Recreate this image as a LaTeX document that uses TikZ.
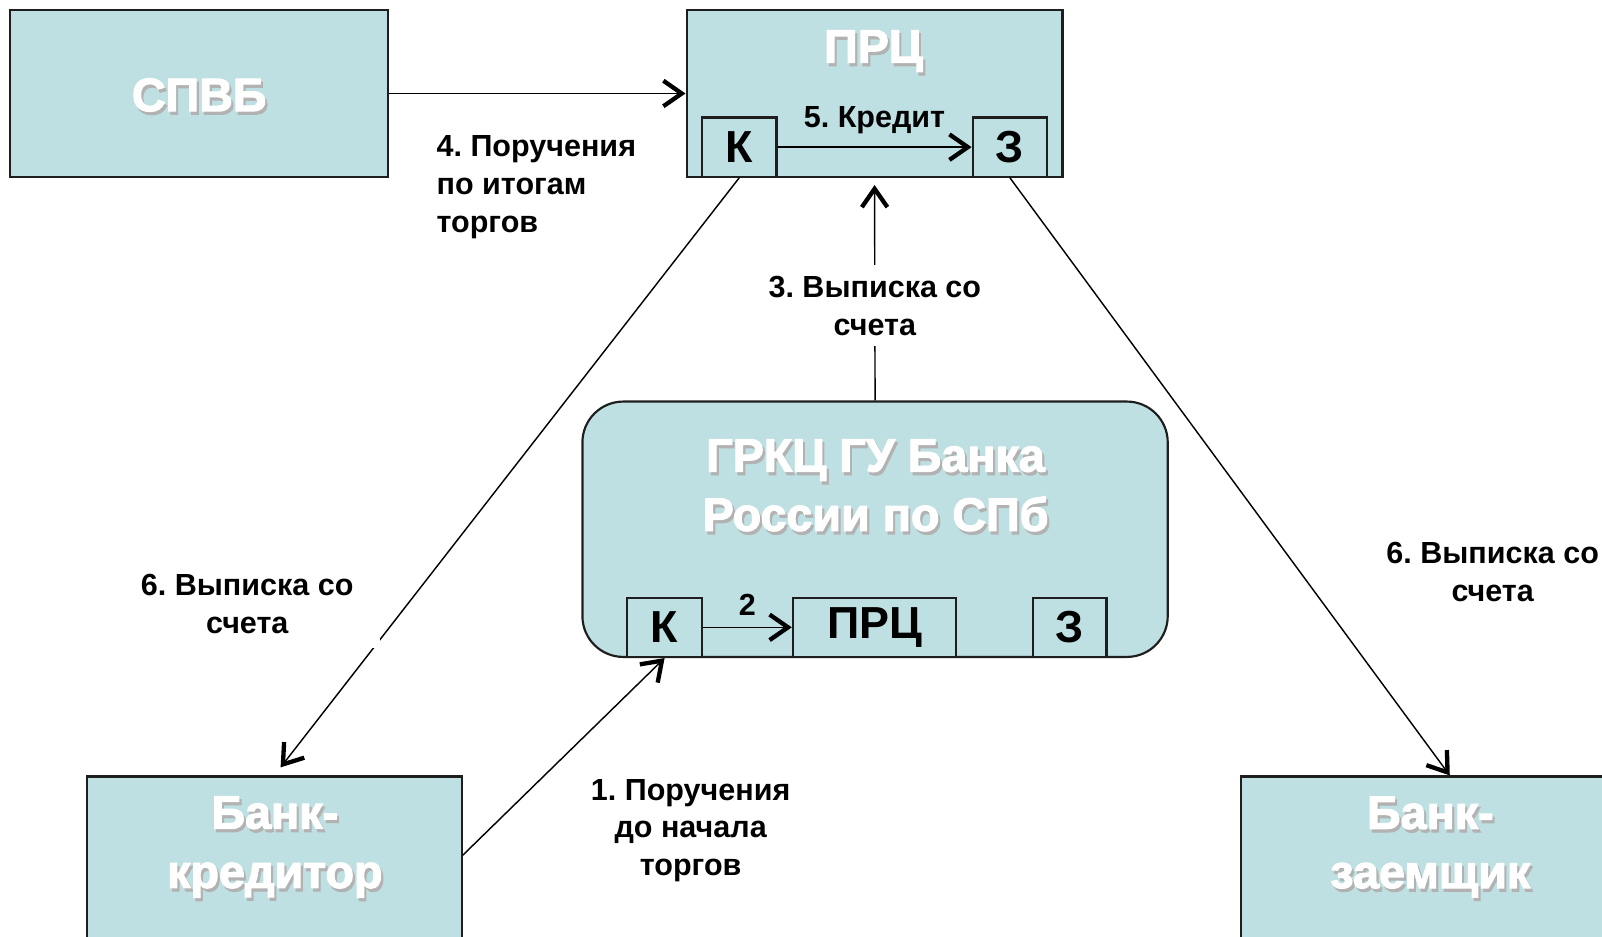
\documentclass[tikz,border=0pt]{standalone}
\usepackage{fontspec}
\setmainfont{Liberation Sans}
\newfontfamily\heavyfont{Liberation Sans Bold}[FakeBold=2.5]
\usepackage{tikz}
\usetikzlibrary{positioning,arrows.meta}
\definecolor{boxfill}{RGB}{190,224,227}
\definecolor{boxline}{RGB}{30,30,30}
\tikzset{
  box/.style={rectangle, draw=boxline, fill=boxfill, line width=1.2pt, inner sep=0pt},
  rbox/.style={box, rounded corners=0.8cm},
  acc/.style={box, minimum width=1.46cm, minimum height=1.16cm, font=\bfseries\fontsize{25}{28}\selectfont},
  ttl/.style={text=white, font=\heavyfont\fontsize{26}{33}\selectfont, align=center, inner sep=0pt},
  ttlsh/.style={ttl, text=black!30, xshift=1.2pt, yshift=-1.8pt},
  lbl/.style={font=\bfseries\fontsize{17}{21}\selectfont, align=center, inner sep=0pt},
  fwd/.style={-{Straight Barb[length=3.6mm,width=5mm,line width=2.4pt]}, line width=0.8pt},
}
% white title with its shadow
\newcommand{\boxtitle}[3]{%
  \node[ttlsh] (#2sh) at (#1) {#3};
  \node[ttl] (#2) at (#1) {#3};}
\frenchspacing

\begin{document}
\begin{tikzpicture}[x=0.02cm, y=-0.02cm]
  \useasboundingbox (0,0) rectangle (1568,917);
  \clip (0,0) rectangle (1568,917);

  % top row
  \node[box, minimum width=7.4cm, minimum height=3.26cm] (spvb) at (195,91.5) {};
  \node[box, minimum width=7.36cm, minimum height=3.26cm] (prc) at (856,91.5) {};
  \node[acc] (prcK) at (723.5,144) {К};
  \node[acc] (prcZ) at (988.5,144) {З};
  \boxtitle{195,93}{spvbT}{СПВБ}
  \boxtitle{855,50}{prcT}{ПРЦ}

  % centre
  \node[rbox, minimum width=11.46cm, minimum height=5cm] (grkc) at (856.5,518) {};
  \node[acc] (gK) at (650.5,614) {К};
  \node[acc, minimum width=3.2cm] (gP) at (856,614) {ПРЦ};
  \node[acc, minimum width=1.44cm] (gZ) at (1047,614) {З};
  \boxtitle{857,475}{grkcT}{ГРКЦ ГУ Банка\\России по СПб}

  % bottom row
  \node[box, minimum width=7.34cm, minimum height=4cm] (bankK) at (268.5,860) {};
  \node[box, minimum width=8.16cm, minimum height=4cm] (bankZ) at (1419,860) {};
  \boxtitle{269,829}{bankKT}{Банк-\\кредитор}
  \boxtitle{1400,829}{bankZT}{Банк-\\заемщик}

  \draw[fwd] (spvb.east) -- (prc.west);
  \node[lbl, align=left, anchor=west] (lab4) at (427,183) {4. Поручения\\по итогам\\торгов};
  \draw[fwd] (prcK.east) -- (prcZ.west) node[lbl, midway, above=7pt] (lab5) {5. Кредит};
  \draw[fwd] (gK.east) -- (gP.west) node[lbl, midway, above=6pt] (lab2) {2};
  \draw[fwd] (grkc.north) -- ([yshift=-4pt]prc.south)
    node[lbl, pos=0.44, fill=white, inner sep=6pt] (lab3) {3. Выписка со\\счета};

  \draw[fwd, shorten >=0.2cm] (prcK.south) -- (bankK.north);
  \node[lbl, fill=white, minimum width=5.2cm, minimum height=1.72cm] (lab6l) at (242,591) {6. Выписка со\\счета};
  \draw[fwd] (prcZ.south) -- (bankZ.north);
  \node[lbl] (lab6r) at (1461,560) {6. Выписка со\\счета};

  \draw[fwd] ([yshift=0.46cm]bankK.east) -- (gK.south);
  \node[lbl] (lab1) at (676,813) {1. Поручения\\до начала\\торгов};
\end{tikzpicture}
\end{document}
